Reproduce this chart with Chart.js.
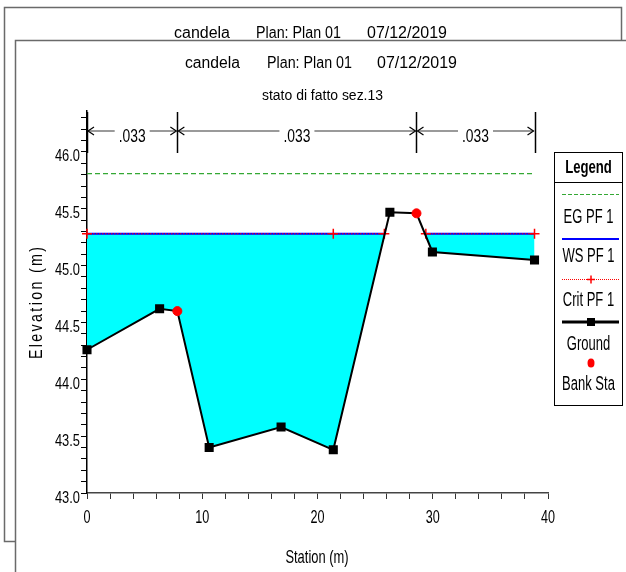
<!DOCTYPE html>
<html>
<head>
<meta charset="utf-8">
<script src="https://cdn.jsdelivr.net/npm/chart.js@4.4.1/dist/chart.umd.min.js"></script>
<style>
  html, body { margin: 0; padding: 0; background: #fff; }
  #wrap { width: 626px; height: 572px; }
</style>
</head>
<body>
<div id="wrap"><canvas id="xsChart" width="626" height="572"></canvas></div>
<script>
// Cross section (station m, elevation m)
const groundStation = [0, 6.3, 7.84, 10.6, 16.84, 21.37, 26.28, 28.59, 29.97, 38.83];
const groundElev = [44.26, 44.62, 44.60, 43.40, 43.58, 43.38, 45.47, 45.46, 45.12, 45.05];

const bankStation = [7.84, 28.59];
const bankElev = [44.60, 45.46];

// water surface: two wet reaches either side of the right bank hump
const wsLevel = 45.28;
const wsLeftStation = [0, 25.8];
const wsRightStation = [29.4, 38.83];

const critLevel = 45.28;
const critLeftStation = [0, 21.37, 25.8];
const critRightStation = [29.4, 38.83];

const egLevel = 45.81;
const egStation = [0, 38.83];

// manning n zones along the top
const nBreaks = [0, 7.84, 28.59, 38.83];
const nValues = ['.033', '.033', '.033'];

const yTickLabels = [43.0, 43.5, 44.0, 44.5, 45.0, 45.5, 46.0];
const xTickLabels = [0, 10, 20, 30, 40];

const FAMILY = "'Liberation Sans', Arial, sans-serif";

// no narrow font installed, so squeeze Liberation Sans sideways
function drawText(ctx, text, x, y, size, sx, align, bold) {
    ctx.save();
    ctx.font = (bold ? 'bold ' : '') + size + 'px ' + FAMILY;
    ctx.textBaseline = 'alphabetic';
    ctx.textAlign = 'left';
    const w = ctx.measureText(text).width * sx;
    const x0 = align === 'center' ? x - w / 2 : align === 'right' ? x - w : x;
    ctx.translate(x0, y);
    ctx.scale(sx, 1);
    ctx.fillText(text, 0, 0);
    ctx.restore();
    return w;
}

// text squeezed/stretched to sit between x0 and x1
function drawFit(ctx, text, x0, x1, y, size) {
    ctx.save();
    ctx.font = size + 'px ' + FAMILY;
    const sx = (x1 - x0) / ctx.measureText(text).width;
    ctx.restore();
    drawText(ctx, text, x0, y, size, sx, 'left');
}

function levelLine(left, right, level) {
    let pts = left.map(s => ({ x: s, y: level }));
    pts.push({ x: (left[left.length - 1] + right[0]) / 2, y: null }); // gap over the bank
    return pts.concat(right.map(s => ({ x: s, y: level })));
}

const groundPoints = groundStation.map((s, i) => ({ x: s, y: groundElev[i] }));
// bank stations get the red dot instead of a square
const groundRadius = groundStation.map(s => bankStation.includes(s) ? 0 : 5);

const COLORS = {
    eg: '#34a834',
    ws: '#0000ff',
    crit: '#ff0000',
    ground: '#000000',
    bank: '#ff0000',
    water: '#00ffff'
};

const decorPlugin = {
    id: 'decor',
    beforeDraw(chart) {
        const ctx = chart.ctx;
        ctx.save();
        ctx.fillStyle = '#fff';
        ctx.fillRect(0, 0, chart.width, chart.height);

        // window behind
        ctx.strokeStyle = '#6a6a6a';
        ctx.lineWidth = 1.5;
        ctx.strokeRect(4.5, 7.5, 617, 534);
        ctx.fillStyle = '#000';
        drawFit(ctx, 'candela', 174, 230, 37.5, 16);
        drawFit(ctx, 'Plan: Plan 01', 256, 341, 37.5, 16);
        drawFit(ctx, '07/12/2019', 367, 447, 37.5, 16);

        // front window
        ctx.fillStyle = '#fff';
        ctx.fillRect(15, 40, chart.width, chart.height);
        ctx.strokeRect(15.5, 40.5, 700, 700);
        ctx.fillStyle = '#000';
        drawFit(ctx, 'candela', 185, 240, 68, 16);
        drawFit(ctx, 'Plan: Plan 01', 267, 352, 68, 16);
        drawFit(ctx, '07/12/2019', 377, 457, 68, 16);
        drawFit(ctx, 'stato di fatto sez.13', 262, 383, 100, 14);
        ctx.restore();
    },
    afterDraw(chart) {
        const ctx = chart.ctx;
        const xs = chart.scales.x;
        const ys = chart.scales.y;
        ctx.save();
        ctx.fillStyle = '#000';

        // tick labels
        yTickLabels.forEach(v => {
            drawText(ctx, v.toFixed(1), 80, ys.getPixelForValue(v) + 9.5, 16.5, 0.78, 'right');
        });
        xTickLabels.forEach(v => {
            drawText(ctx, String(v), xs.getPixelForValue(v), 523, 18, 0.7, 'center');
        });

        // n value brackets
        const top = 112, bottom = 153, yArrow = 131;
        ctx.strokeStyle = '#000';
        ctx.lineWidth = 1.5;
        nBreaks.forEach(b => {
            const px = Math.round(xs.getPixelForValue(b)) + 0.5;
            ctx.beginPath();
            ctx.moveTo(px, top);
            ctx.lineTo(px, bottom);
            ctx.stroke();
        });
        ctx.font = '18px ' + FAMILY;
        for (let i = 0; i < nValues.length; i++) {
            const x1 = xs.getPixelForValue(nBreaks[i]) + 1;
            const x2 = xs.getPixelForValue(nBreaks[i + 1]) - 1;
            const mid = (x1 + x2) / 2;
            const w = ctx.measureText(nValues[i]).width * 0.77;
            ctx.strokeStyle = '#7a7a7a';
            ctx.lineWidth = 1.5;
            ctx.beginPath();
            ctx.moveTo(x1, yArrow);
            ctx.lineTo(mid - w / 2 - 4, yArrow);
            ctx.moveTo(mid + w / 2 + 4, yArrow);
            ctx.lineTo(x2, yArrow);
            ctx.stroke();
            ctx.strokeStyle = '#000';
            ctx.lineWidth = 1.2;
            ctx.beginPath();
            ctx.moveTo(x1 + 6, yArrow - 4);
            ctx.lineTo(x1, yArrow);
            ctx.lineTo(x1 + 6, yArrow + 4);
            ctx.moveTo(x2 - 6, yArrow - 4);
            ctx.lineTo(x2, yArrow);
            ctx.lineTo(x2 - 6, yArrow + 4);
            ctx.stroke();
            drawText(ctx, nValues[i], mid, 141.5, 18, 0.77, 'center');
        }

        // axis titles
        drawText(ctx, 'Station (m)', 317, 563, 19, 0.68, 'center');
        ctx.save();
        ctx.translate(42, 0);
        ctx.rotate(-Math.PI / 2);
        ctx.font = '19px ' + FAMILY;
        const yTitle = 'Elevation (m)';
        const sx = 0.75, span = 112;
        let natural = 0;
        for (const ch of yTitle) natural += ctx.measureText(ch).width * sx;
        const spacing = (span - natural) / (yTitle.length - 1);
        let cx = -(303 + span / 2);
        for (const ch of yTitle) {
            ctx.save();
            ctx.translate(cx, 0);
            ctx.scale(sx, 1);
            ctx.fillText(ch, 0, 0);
            ctx.restore();
            cx += ctx.measureText(ch).width * sx + spacing;
        }
        ctx.restore();

        // legend box
        const lx = 554.5, ly = 152.5, lw = 68, lh = 253;
        const l1 = 562, l2 = 619, lc = 591, tc = lx + lw / 2;
        ctx.strokeStyle = '#000';
        ctx.lineWidth = 1;
        ctx.strokeRect(lx, ly, lw, lh);
        ctx.beginPath();
        ctx.moveTo(lx, 182.5);
        ctx.lineTo(lx + lw, 182.5);
        ctx.stroke();
        drawText(ctx, 'Legend', tc, 172.5, 18, 0.73, 'center', true);

        // EG
        ctx.strokeStyle = COLORS.eg;
        ctx.lineWidth = 1.2;
        ctx.setLineDash([4, 2]);
        ctx.beginPath(); ctx.moveTo(l1, 194.5); ctx.lineTo(l2, 194.5); ctx.stroke();
        ctx.setLineDash([]);
        drawText(ctx, 'EG PF 1', tc, 223, 20, 0.65, 'center');
        // WS
        ctx.strokeStyle = COLORS.ws;
        ctx.lineWidth = 2;
        ctx.beginPath(); ctx.moveTo(l1, 239); ctx.lineTo(l2, 239); ctx.stroke();
        drawText(ctx, 'WS PF 1', tc, 261.5, 20, 0.65, 'center');
        // Crit
        ctx.strokeStyle = COLORS.crit;
        ctx.lineWidth = 1;
        ctx.setLineDash([1, 1]);
        ctx.beginPath(); ctx.moveTo(l1, 279.5); ctx.lineTo(l2, 279.5); ctx.stroke();
        ctx.setLineDash([]);
        ctx.lineWidth = 1.5;
        ctx.beginPath();
        ctx.moveTo(lc - 4, 279.5); ctx.lineTo(lc + 4, 279.5);
        ctx.moveTo(lc, 275.5); ctx.lineTo(lc, 283.5);
        ctx.stroke();
        drawText(ctx, 'Crit PF 1', tc, 305.5, 20, 0.65, 'center');
        // Ground
        ctx.strokeStyle = COLORS.ground;
        ctx.lineWidth = 3;
        ctx.beginPath(); ctx.moveTo(l1, 322); ctx.lineTo(l2, 322); ctx.stroke();
        ctx.fillStyle = COLORS.ground;
        ctx.fillRect(lc - 4, 318, 8, 8);
        drawText(ctx, 'Ground', tc, 350, 20, 0.65, 'center');
        // Bank
        ctx.fillStyle = COLORS.bank;
        ctx.beginPath(); ctx.ellipse(lc, 363, 3.5, 4.5, 0, 0, Math.PI * 2); ctx.fill();
        ctx.fillStyle = '#000';
        drawText(ctx, 'Bank Sta', tc, 390, 20, 0.65, 'center');

        ctx.restore();
    }
};

const ctx = document.getElementById('xsChart').getContext('2d');
new Chart(ctx, {
    type: 'scatter',
    data: {
        datasets: [
            {
                label: 'Bank Sta',
                data: bankStation.map((s, i) => ({ x: s, y: bankElev[i] })),
                showLine: false,
                pointStyle: 'circle',
                pointRadius: 4.5,
                backgroundColor: COLORS.bank,
                borderColor: COLORS.bank,
                clip: false
            },
            {
                label: 'Ground',
                data: groundPoints,
                showLine: true,
                borderColor: COLORS.ground,
                borderWidth: 2,
                pointStyle: 'rect',
                pointRadius: groundRadius,
                pointBackgroundColor: COLORS.ground,
                pointBorderColor: COLORS.ground,
                backgroundColor: COLORS.ground,
                clip: false
            },
            {
                label: 'Crit PF 1',
                data: levelLine(critLeftStation, critRightStation, critLevel),
                showLine: true,
                spanGaps: false,
                borderColor: COLORS.crit,
                borderWidth: 1,
                borderDash: [1.5, 1.5],
                pointStyle: 'cross',
                pointRadius: 5,
                pointBorderWidth: 1.5,
                pointBorderColor: COLORS.crit,
                clip: false
            },
            {
                label: 'WS PF 1',
                data: levelLine(wsLeftStation, wsRightStation, wsLevel),
                showLine: true,
                spanGaps: false,
                borderColor: COLORS.ws,
                borderWidth: 2,
                pointRadius: 0,
                backgroundColor: COLORS.water,
                fill: 1,
                clip: false
            },
            {
                label: 'EG PF 1',
                data: egStation.map(s => ({ x: s, y: egLevel })),
                showLine: true,
                borderColor: COLORS.eg,
                borderWidth: 1.2,
                borderDash: [5, 3],
                pointRadius: 0,
                clip: false
            }
        ]
    },
    options: {
        responsive: false,
        animation: false,
        devicePixelRatio: 1,
        layout: { padding: { top: 111, right: 78, left: 0, bottom: 0 } },
        plugins: {
            legend: { display: false },
            tooltip: { enabled: false },
            filler: { propagate: false, drawTime: 'beforeDatasetsDraw' }
        },
        scales: {
            x: {
                type: 'linear',
                min: 0,
                max: 40,
                afterFit: s => { s.height = 79; },
                afterBuildTicks: s => {
                    const t = [];
                    for (let v = 0; v <= 40; v += 2) t.push({ value: v });
                    s.ticks = t;
                },
                ticks: { display: false, autoSkip: false },
                grid: { drawOnChartArea: false, drawTicks: true, tickLength: 6, tickColor: '#333' },
                border: { display: true, color: '#444', width: 1.5 }
            },
            y: {
                type: 'linear',
                min: 43,
                max: 46.36,
                afterFit: s => { s.width = 87; },
                afterBuildTicks: s => {
                    const t = [];
                    for (let i = 0; i <= 33; i++) t.push({ value: Math.round((43 + i * 0.1) * 10) / 10 });
                    s.ticks = t;
                },
                ticks: { display: false, autoSkip: false },
                grid: { drawOnChartArea: false, drawTicks: true, tickLength: 6, tickColor: '#000' },
                border: { display: true, color: '#000', width: 1.5 }
            }
        }
    },
    plugins: [decorPlugin]
});
</script>
</body>
</html>
